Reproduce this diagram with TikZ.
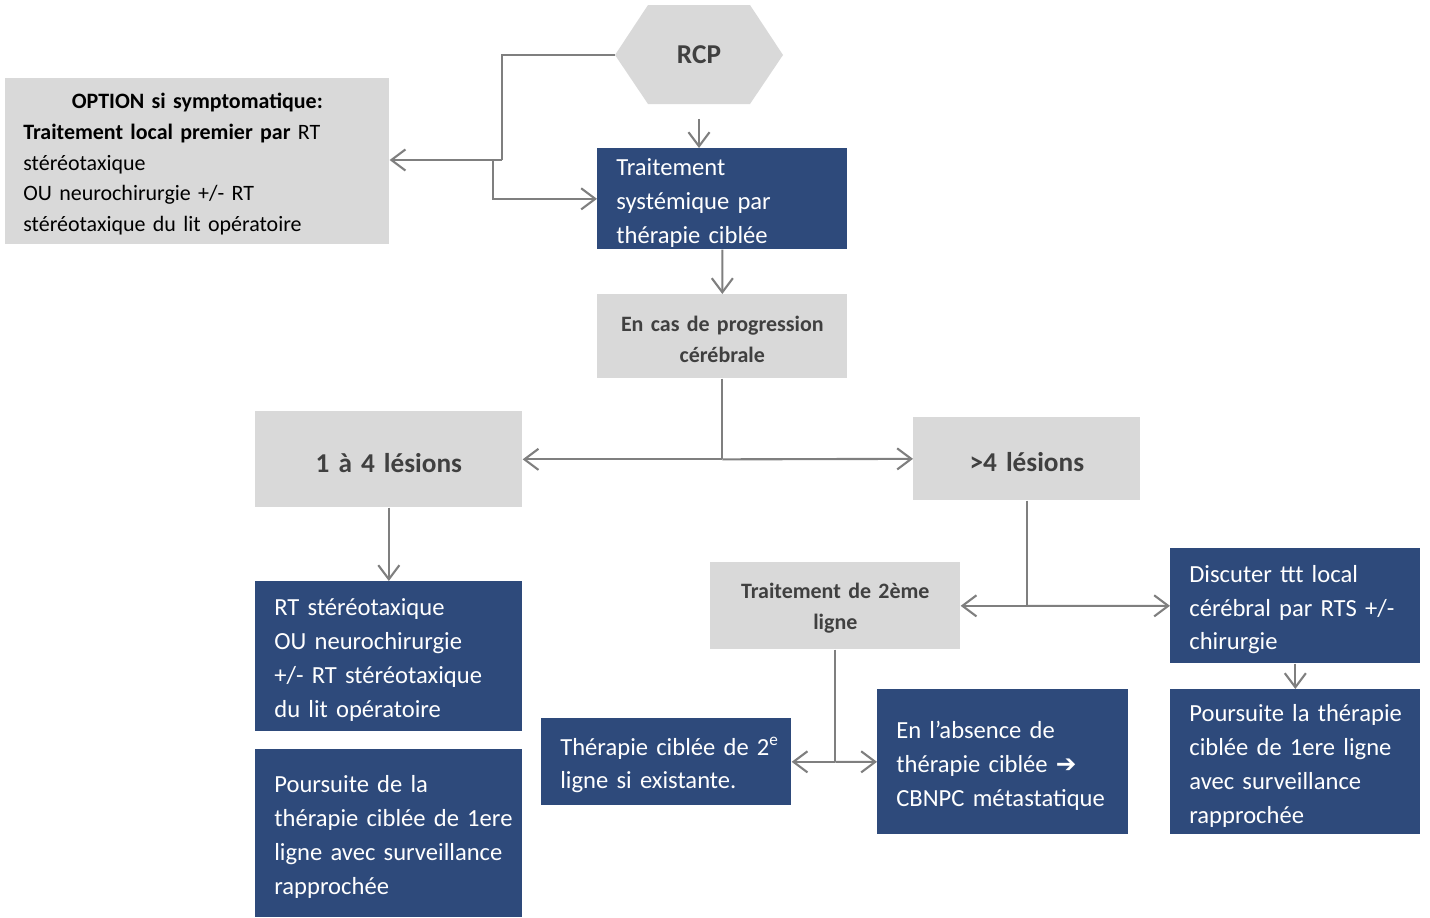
\documentclass[tikz,border=0pt]{standalone}
\usepackage{fontspec}
\setmainfont{Carlito}
\newfontfamily\arrowfont{DejaVu Sans}
\usetikzlibrary{arrows.meta}

\definecolor{boxblue}{HTML}{2E4A7B}
\definecolor{boxgray}{HTML}{D9D9D9}
\definecolor{linegray}{HTML}{7F7F7F}
\definecolor{txtgray}{HTML}{404040}

\begin{document}
\begin{tikzpicture}[x=0.02cm, y=-0.02cm,
		bl/.style = {rectangle, fill=boxblue, text=white, anchor=north west, inner xsep=0.38cm, inner ysep=0pt, align=left, font=\fontsize{14}{19.3}\selectfont, execute at begin node={\rule{0pt}{1em}}},
		gr/.style = {rectangle, fill=boxgray, text=txtgray, anchor=north west, inner xsep=0.3cm, inner ysep=0pt, align=center, font=\bfseries\fontsize{12.5}{17.6}\selectfont, execute at begin node={\rule{0pt}{0.95em}}},
		big/.style = {font=\bfseries\fontsize{15.5}{19}\selectfont},
		ln/.style = {draw=linegray, line width=1.2pt},
		ar/.style = {ln, -{Straight Barb[length=8pt, width=12pt]}}
		]
		\useasboundingbox (0,0) rectangle (1430,917);
		
		%Nodes
		\fill[boxgray] (615,55) -- (648,5) -- (750,5) -- (783,55) -- (750,104) -- (648,104) -- cycle;
		\node[big, text=txtgray, minimum width=3.36cm, minimum height=1.98cm] (rcp) at (699,55) {RCP};
		
		\node[gr, text=black, align=left, inner xsep=0.36cm, text width=6.96cm, minimum height=3.32cm, font=\fontsize{12.5}{17.6}\selectfont] (opt) at (5,78)
			{\makebox[6.96cm][c]{\textbf{OPTION si symptomatique:}}\\
			\textbf{Traitement local premier par} RT\\
			stéréotaxique\\
			OU neurochirurgie +/- RT\\
			stéréotaxique du lit opératoire};
		\node[bl, text width=4.24cm, minimum height=2.02cm] (trait) at (597,148) {Traitement\\ systémique par\\ thérapie ciblée};
		\node[gr, text width=4.4cm, minimum height=1.68cm] (prog) at (597,294) {En cas de progression\\ cérébrale};
		
		\node[gr, big, text width=4.74cm, minimum height=1.92cm] (les1) at (255,411) {1 à 4 lésions};
		\node[gr, big, text width=3.94cm, minimum height=1.66cm] (les4) at (913,417) {>4 lésions};
		
		\node[bl, text width=4.58cm, minimum height=3cm] (rt) at (255,581)
			{RT stéréotaxique\\ OU neurochirurgie\\ +/- RT stéréotaxique\\ du lit opératoire};
		\node[bl, text width=4.58cm, minimum height=3.36cm] (pours1) at (255,749)
			{Poursuite de la\\ thérapie~ciblée~de~1ere\\ ligne~avec~surveillance\\ rapprochée};
		
		\node[gr, text width=4.4cm, minimum height=1.74cm] (ligne2) at (710,562) {Traitement de 2ème\\ ligne};
		\node[bl, text width=4.24cm, minimum height=2.3cm] (disc) at (1170,548)
			{Discuter ttt local\\ cérébral~par~RTS~+/-\\ chirurgie};
		\node[bl, text width=4.24cm, minimum height=1.74cm] (cib2) at (541,718)
			{Thérapie~ciblée~de~2\textsuperscript{e}\\ ligne si existante.};
		\node[bl, text width=4.26cm, minimum height=2.9cm] (abs) at (877,689)
			{En l’absence de\\ thérapie ciblée {\arrowfont ➔}\\ CBNPC métastatique};
		\node[bl, text width=4.24cm, minimum height=2.9cm] (pours2) at (1170,689)
			{Poursuite~la~thérapie\\ ciblée~de~1ere~ligne\\ avec surveillance\\ rapprochée};
		
		%Junctions
		\coordinate (j1) at (502,160);
		\coordinate (j2) at (493,160);
		\coordinate (j3) at (prog.south |- les1.east);
		\coordinate (j4) at (les4.south |- ligne2.east);
		\coordinate (j5) at (ligne2.south |- cib2.east);
		
		%Lines
		\draw[ln] (rcp.west) -| (j1);
		\draw[ar] (j1) -- (opt.east |- j1);
		\draw[ar] (j2) |- (trait.west);
		\draw[ar] ([yshift=-0.28cm]rcp.south) -- (rcp.south |- trait.north);
		\draw[ar] (trait.south) -- (prog.north);
		
		\draw[ln] (prog.south) -- (j3);
		\draw[ar] (j3) -- (les1.east);
		\draw[ar] (j3) -- (les4.west);
		\draw[ar] (les1.south) -- (rt.north);
		
		\draw[ln] (les4.south) -- (j4);
		\draw[ar] (j4) -- (ligne2.east);
		\draw[ar] (j4) -- (disc.west);
		\draw[ar] (disc.south) -- (pours2.north);
		
		\draw[ln] (ligne2.south) -- (j5);
		\draw[ar] (j5) -- (cib2.east);
		\draw[ar] (j5) -- (abs.west);
		
	\end{tikzpicture}
\end{document}
